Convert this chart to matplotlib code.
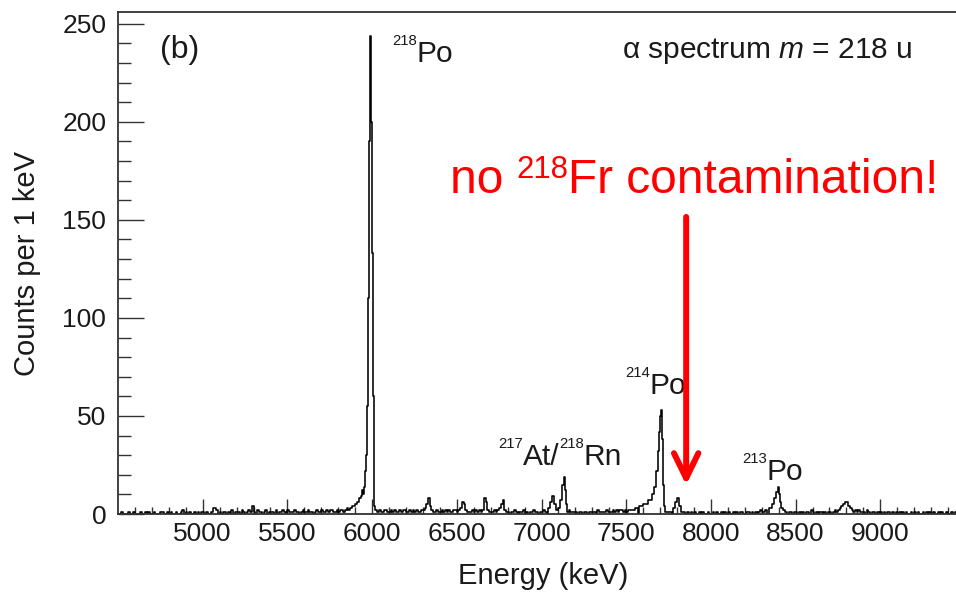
import numpy as np
import matplotlib.pyplot as plt
from matplotlib import transforms

plt.rcParams['font.family'] = ['Liberation Sans', 'DejaVu Sans']
plt.rcParams['mathtext.fontset'] = 'custom'
plt.rcParams['mathtext.rm'] = 'Liberation Sans'
plt.rcParams['mathtext.it'] = 'Liberation Sans:italic'

# background counts, one digit per 10 keV bin, one string per 500 keV
bg_start = [4500, 5000, 5500, 6000, 6500, 7000, 7500, 8000, 8500, 9000]
bg_digits = [
    "0010001001" "0001001010" "0100011001" "0100100120" "1010010101",
    "1010013320" "1011010201" "1102101214" "1021101201" "1102011210",
    "2111211012" "1121101211" "2112122112" "1221232344" "5670000000",
    "0021211221" "1212112122" "1121212112" "2358421121" "1212121122",
    "1236521112" "1212128621" "1121235721" "1011210112" "0101121101",
    "1210000000" "0000002111" "1011011011" "1102111121" "1121212212",
    "1222233000" "0000000000" "0000111000" "0010101010" "1001010010",
    "0101001010" "1001010110" "0110101012" "1120000000" "0012101101",
    "1010101102" "1010110101" "1012123456" "6432121211" "1021011010",
    "1010110101" "0101010010" "1010010101" "0100101001" "0010100100",
]

# peaks (energy in keV, counts per 1 keV)
po218_e = [5928, 5939, 5945, 5951, 5957, 5963, 5969, 5975, 5981, 5987, 5993,
           5998, 6002, 6007, 6012, 6016, 6022]
po218_c = [8, 9, 12, 10, 14, 22, 30, 55, 110, 190, 244, 200, 133, 60, 14, 4, 2]

atrn_e = [7044, 7056, 7068, 7080, 7092, 7103, 7115, 7127, 7133, 7139, 7145, 7157]
atrn_c = [3, 6, 9, 5, 2, 3, 7, 15, 19, 12, 5, 1]

po214_e = [7582, 7612, 7641, 7659, 7671, 7683, 7688, 7694, 7700, 7706, 7712,
           7718, 7724, 7730]
po214_c = [4, 5, 7, 10, 14, 22, 32, 42, 50, 53, 38, 15, 4, 1]

bump_e = [7783, 7795, 7806, 7818, 7830]
bump_c = [3, 6, 8, 4, 1]

po213_e = [8350, 8368, 8379, 8391, 8397, 8403, 8409, 8421]
po213_c = [3, 5, 8, 11, 14, 10, 6, 3]

peaks = [(po218_e, po218_c), (atrn_e, atrn_c), (po214_e, po214_c),
         (bump_e, bump_c), (po213_e, po213_c)]

# merge background bins and peak points
energy, counts = [], []
windows = [(min(e), max(e)) for e, c in peaks]
for start, digits in zip(bg_start, bg_digits):
    for i, d in enumerate(digits):
        e = start + 5 + 10 * i
        if any(lo - 5 <= e <= hi + 5 for lo, hi in windows):
            continue
        energy.append(e)
        counts.append(int(d))
for e, c in peaks:
    energy += e
    counts += c
order = np.argsort(energy)
energy = np.array(energy)[order]
counts = np.array(counts)[order]

fig = plt.figure(figsize=(9.56, 5.95), dpi=100)
ax = fig.add_axes([118 / 956, 81 / 595, 847 / 956, 502 / 595])

ax.plot(energy, counts, drawstyle='steps-mid', color='black', lw=1.15)

ax.set_xlim(4500, 9500)
ax.set_ylim(0, 256)
ax.set_xticks(np.arange(5000, 9001, 500))
ax.set_xticks(np.arange(4600, 9500, 100), minor=True)
ax.set_yticks(np.arange(0, 251, 50))
ax.set_yticks(np.arange(0, 256, 10), minor=True)

spine_col = '#333333'
for s in ['left', 'top', 'bottom']:
    ax.spines[s].set_color(spine_col)
    ax.spines[s].set_linewidth(1.3)
ax.spines['right'].set_visible(False)

ax.tick_params(axis='both', which='both', direction='in', color=spine_col,
               width=1.0, labelsize=19, labelcolor='#1a1a1a')
ax.tick_params(axis='y', which='major', length=18.7, pad=8.5)
ax.tick_params(axis='y', which='minor', length=9.4)
ax.tick_params(axis='x', which='major', length=10.5, pad=6)
ax.tick_params(axis='x', which='minor', length=5)
ax.tick_params(top=False, right=False, which='both')

ax.set_xlabel('Energy (keV)', fontsize=21, color='#1a1a1a')
ax.set_ylabel('Counts per 1 keV', fontsize=21, color='#1a1a1a')
ax.xaxis.set_label_coords(0.502, -0.096)
ax.yaxis.set_label_coords(-0.091, 0.5)


def iso_text(x, y, pieces, size, color='#1a1a1a', sup_scale=0.5, sup_rise=0.56):
    """Draw text made of normal and superscript pieces, left aligned."""
    r = fig.canvas.get_renderer()
    off = 0.0
    for s, sup in pieces:
        fs = size * sup_scale if sup else size
        dy = size * sup_rise * fig.dpi / 72 if sup else 0
        tr = transforms.offset_copy(ax.transData, fig=fig, x=off, y=dy, units='dots')
        t = ax.text(x, y, s, fontsize=fs, color=color, ha='left', va='baseline',
                    transform=tr)
        off += t.get_window_extent(renderer=r).width


ax.text(4746, 232.7, '(b)', fontsize=23, color='#1a1a1a', va='baseline')
iso_text(6117, 230.6, [('218', True), ('Po', False)], 21.5)
ax.text(9189, 232.7, r'α spectrum $m$ = 218 u', fontsize=21.5, color='#1a1a1a',
        ha='right', va='baseline')
iso_text(6743, 25.0, [('217', True), ('At/', False), ('218', True), ('Rn', False)], 21.5)
iso_text(7493, 61.2, [('214', True), ('Po', False)], 21.5)
iso_text(8184, 17.3, [('213', True), ('Po', False)], 21.5)

iso_text(6459, 163.8, [('no ', False), ('218', True), ('Fr contamination!', False)],
         34.5, color='#ff0000', sup_scale=0.65, sup_rise=0.31)

ax.annotate('', xy=(7854, 14.8), xytext=(7854, 151.5),
            arrowprops=dict(arrowstyle='->,head_length=0.45,head_width=0.22',
                            color='#ff0000', lw=4.3, shrinkA=0, shrinkB=0,
                            mutation_scale=40))

fig.savefig('out.png', dpi=100)
